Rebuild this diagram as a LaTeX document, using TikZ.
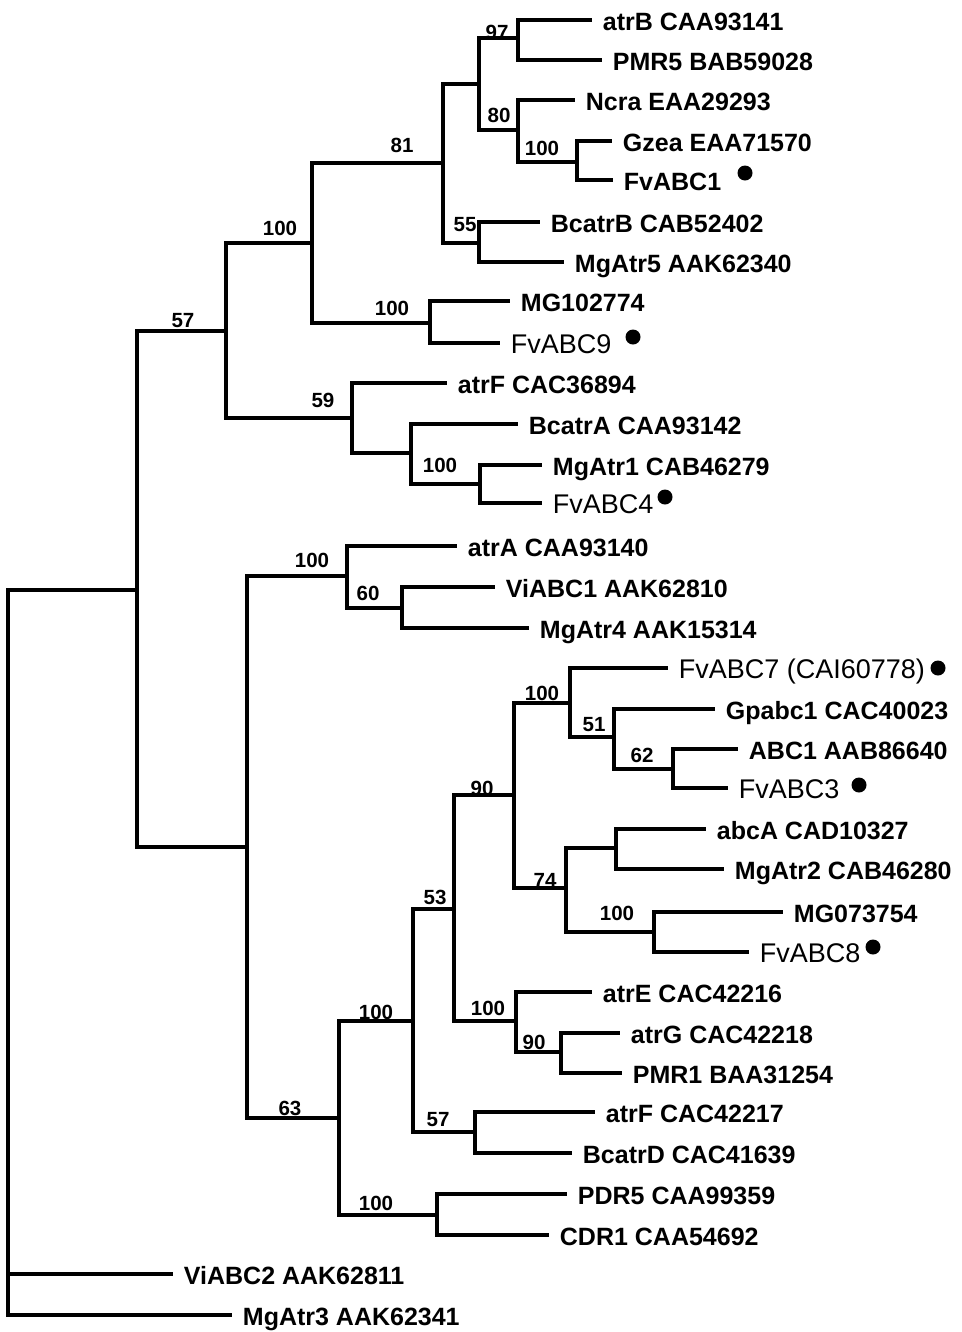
\documentclass[tikz,border=0pt]{standalone}
\usepackage{fontspec}
\setmainfont{Liberation Sans}
\usepackage{tikz}

\newcommand{\leaffont}{\fontsize{18.75}{20}\selectfont\bfseries}
\newcommand{\fvfont}{\fontsize{20.25}{22}\selectfont}
\newcommand{\bootfont}{\fontsize{15.4}{17}\selectfont\bfseries}

\begin{document}
\begin{tikzpicture}[
    x=0.75pt, y=-0.75pt,
    branch/.style={line width=2.3pt},
    leaf/.style={anchor=west, inner xsep=8pt, inner ysep=0pt, text height=15pt, text depth=0pt, font=\leaffont},
    fvleaf/.style={leaf, text height=15.5pt, font=\fvfont},
    boot/.style={inner sep=0pt, font=\bootfont},
    dot/.style={circle, fill=black, inner sep=0pt, minimum size=11.25pt}
]
    \useasboundingbox (0,0) rectangle (961,1332);

    % Leaves (bold)
    \foreach \name/\xx/\yy/\txt in {
        atrB/592/20/{atrB CAA93141}, PMR5/602/60/{PMR5 BAB59028},
        Ncra/575/100/{Ncra EAA29293}, Gzea/612/141/{Gzea EAA71570},
        FvABC1/613/180/{FvABC1}, BcatrB/540/222/{BcatrB CAB52402},
        MgAtr5/564/262/{MgAtr5 AAK62340}, MG102774/510/301/{MG102774},
        atrFa/447/383/{atrF CAC36894}, BcatrA/518/424/{BcatrA CAA93142},
        MgAtr1/542/465/{MgAtr1 CAB46279}, atrA/457/546/{atrA CAA93140},
        ViABC1/495/587/{ViABC1 AAK62810}, MgAtr4/529/628/{MgAtr4 AAK15314},
        Gpabc1/715/709/{Gpabc1 CAC40023}, ABC1/738/749/{ABC1 AAB86640},
        abcA/706/829/{abcA CAD10327}, MgAtr2/724/869/{MgAtr2 CAB46280},
        MG073754/783/912/{MG073754}, atrE/592/992/{atrE CAC42216},
        atrG/620/1033/{atrG CAC42218}, PMR1/622/1073/{PMR1 BAA31254},
        atrFb/595/1112/{atrF CAC42217}, BcatrD/572/1153/{BcatrD CAC41639},
        PDR5/567/1194/{PDR5 CAA99359}, CDR1/549/1235/{CDR1 CAA54692},
        ViABC2/173/1274/{ViABC2 AAK62811}, MgAtr3/232/1315/{MgAtr3 AAK62341}} {
        \node[leaf] (\name) at (\xx,\yy) {\txt};
    }

    % Leaves (regular)
    \foreach \name/\xx/\yy/\txt in {
        FvABC9/500/343/{FvABC9}, FvABC4/542/503/{FvABC4},
        FvABC7/668/668/{FvABC7 (CAI60778)}, FvABC3/728/788/{FvABC3},
        FvABC8/749/952/{FvABC8}} {
        \node[fvleaf] (\name) at (\xx,\yy) {\txt};
    }

    % Markers
    \foreach \name/\xx/\yy in {dot1/745/173, dot9/633/337, dot4/665/497,
        dot7/938/668, dot3/859/785, dot8/873/947} {
        \node[dot] (\name) at (\xx,\yy) {};
    }

    % Internal nodes
    \foreach \name/\xx/\yy in {root/8/1295, ingroup/137/590, upper/226/331, lower/247/847,
        nB/312/243, nD/443/163, nF/479/84, nH/518/38, nI/518/130, nJ/577/162,
        nG/479/243, nE/430/323, nC/352/418, nK/411/453, nL/480/484,
        nN/347/576, nO/402/608, nR/339/1118, nS/413/1021, nU/454/909,
        nW/514/795, nY/570/703, nY2/614/737, nY3/673/769, nZ/566/888,
        nZ1/616/848, nZ2/654/932, nX/516/1021, nX2/561/1052, nV/475/1132,
        nT/437/1215} {
        \coordinate (\name) at (\xx,\yy);
    }

    % Branches
    \foreach \p/\c in {root/ingroup, root/ViABC2, root/MgAtr3,
        ingroup/upper, ingroup/lower, upper/nB, upper/nC,
        nB/nD, nB/nE, nD/nF, nD/nG, nF/nH, nF/nI,
        nH/atrB, nH/PMR5, nI/Ncra, nI/nJ, nJ/Gzea, nJ/FvABC1,
        nG/BcatrB, nG/MgAtr5, nE/MG102774, nE/FvABC9,
        nC/atrFa, nC/nK, nK/BcatrA, nK/nL, nL/MgAtr1, nL/FvABC4,
        lower/nN, lower/nR, nN/atrA, nN/nO, nO/ViABC1, nO/MgAtr4,
        nR/nS, nR/nT, nS/nU, nS/nV, nU/nW, nU/nX,
        nW/nY, nW/nZ, nY/FvABC7, nY/nY2, nY2/Gpabc1, nY2/nY3,
        nY3/ABC1, nY3/FvABC3, nZ/nZ1, nZ/nZ2, nZ1/abcA, nZ1/MgAtr2,
        nZ2/MG073754, nZ2/FvABC8, nX/atrE, nX/nX2, nX2/atrG, nX2/PMR1,
        nV/atrFb, nV/BcatrD, nT/PDR5, nT/CDR1} {
        \draw[branch] (\p) |- (\c);
    }

    % Bootstrap values
    \foreach \name/\xx/\yy/\val in {b57/183/321/57, bB/280/228/100, bC/323/400/59,
        bD/402/145/81, bE/392/308/100, bH/497/32/97, bI/499/115/80,
        bJ/542/148/100, bG/465/225/55, bL/440/465/100, bN/312/560/100,
        bO/368/593/60, bR/290/1108/63, bS/376/1012/100, bT/376/1203/100,
        bU/435/897/53, bV/438/1120/57, bW/482/788/90, bX/488/1008/100,
        bY/542/693/100, bZ/545/880/74, bY2/594/725/51, bY3/642/755/62,
        bZ2/617/913/100, bX2/534/1042/90} {
        \node[boot] (\name) at (\xx,\yy) {\val};
    }
\end{tikzpicture}
\end{document}
